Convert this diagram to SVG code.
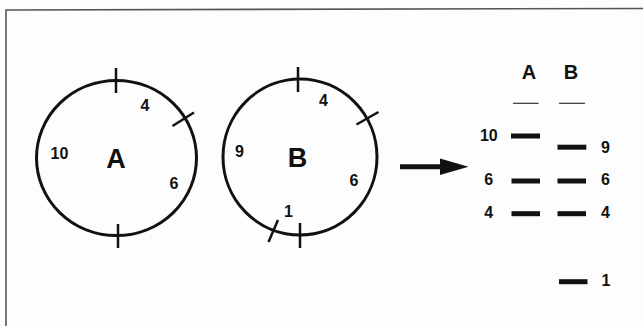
<svg xmlns="http://www.w3.org/2000/svg" width="643" height="326" viewBox="0 0 643 326">
<style>
  .c { fill: none; stroke: #111; stroke-width: 3; }
  .t { stroke: #111; stroke-width: 2.5; fill: none; }
  .n { font-family: "Liberation Sans", Arial, sans-serif; font-weight: bold; font-size: 16px; fill: #111; text-anchor: middle; }
  .big { font-family: "Liberation Sans", Arial, sans-serif; font-weight: bold; font-size: 27px; fill: #111; text-anchor: middle; }
  .hd { font-family: "Liberation Sans", Arial, sans-serif; font-weight: bold; font-size: 20px; fill: #111; text-anchor: middle; }
  .band { stroke: #111; stroke-width: 5; }
  .thin { stroke: #333; stroke-width: 1.2; }
</style>
<rect width="643" height="326" fill="#fdfdfd"/>
<path d="M6 326 L6 10 L643 8.5" fill="none" stroke="#555" stroke-width="1.6"/>

<g id="plasmidA">
  <ellipse class="c" cx="116.5" cy="158" rx="80" ry="77.5"/>
  <line class="t" x1="116" y1="68" x2="116" y2="93"/>
  <line class="t" x1="118" y1="224" x2="118" y2="248"/>
  <line class="t" x1="172.5" y1="126" x2="194" y2="112.5"/>
  <text class="n" x="145" y="110.7">4</text>
  <text class="n" x="59.5" y="159">10</text>
  <text class="n" x="174" y="188.7">6</text>
  <text class="big" x="116" y="167.5">A</text>
</g>

<g id="plasmidB">
  <ellipse class="c" cx="300" cy="157" rx="77" ry="78"/>
  <line class="t" x1="298" y1="67" x2="298" y2="92"/>
  <line class="t" x1="300" y1="223" x2="300" y2="248"/>
  <line class="t" x1="356.5" y1="124.5" x2="378.5" y2="112"/>
  <line class="t" x1="268.5" y1="242" x2="278" y2="220"/>
  <text class="n" x="323.5" y="105.7">4</text>
  <text class="n" x="239.5" y="157.4">9</text>
  <text class="n" x="354" y="186.4">6</text>
  <text class="n" x="288.5" y="217.4">1</text>
  <text class="big" x="297.5" y="166.5">B</text>
</g>

<g id="connectors">
  <line x1="400" y1="166.7" x2="443" y2="166.7" stroke="#111" stroke-width="5"/>
  <polygon points="440,158.5 468.5,166.7 440,175" fill="#111"/>
</g>

<g id="gel">
  <text class="hd" x="529" y="78.5">A</text>
  <text class="hd" x="571" y="78.5">B</text>
  <line class="thin" x1="513" y1="103.3" x2="538.5" y2="103.3"/>
  <line class="thin" x1="559" y1="103.3" x2="585" y2="103.3"/>
  <line class="band" x1="511" y1="136" x2="540" y2="136"/>
  <line class="band" x1="511.5" y1="181" x2="540" y2="181"/>
  <line class="band" x1="511.5" y1="213.7" x2="540" y2="213.7"/>
  <line class="band" x1="557.5" y1="147.2" x2="586.3" y2="147.2"/>
  <line class="band" x1="557.5" y1="181" x2="586" y2="181"/>
  <line class="band" x1="557.5" y1="213.7" x2="586" y2="213.7"/>
  <line class="band" x1="559" y1="281.7" x2="587.5" y2="281.7"/>
  <text class="n" x="488.8" y="141">10</text>
  <text class="n" x="488.7" y="184.7">6</text>
  <text class="n" x="488.7" y="217.7">4</text>
  <text class="n" x="605.5" y="152.7">9</text>
  <text class="n" x="605.5" y="184.7">6</text>
  <text class="n" x="605.5" y="217.7">4</text>
  <text class="n" x="606" y="285.7">1</text>
</g>
</svg>
